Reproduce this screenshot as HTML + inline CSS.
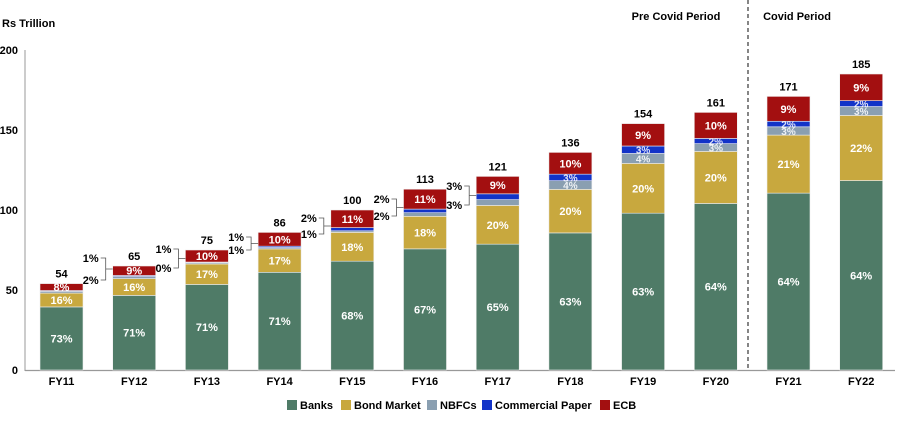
<!DOCTYPE html>
<html><head><meta charset="utf-8"><style>
body{margin:0;background:#fff;}
svg{display:block;font-family:"Liberation Sans",Arial,sans-serif;font-weight:bold;}
</style></head><body>
<svg id="c" width="900" height="423" viewBox="0 0 900 423"></svg>
<script>
const s=document.getElementById('c');
let h='';
const Y=v=>370-v*1.6;
h+=`<text x="2" y="27" font-size="11">Rs Trillion</text>`;
[0,50,100,150,200].forEach(v=>{h+=`<text x="18" y="${Y(v)+4}" font-size="11" text-anchor="end">${v}</text>`;});
h+=`<line x1="25" y1="50" x2="25" y2="371" stroke="#999" stroke-width="1"/>`;
h+=`<line x1="25" y1="370.5" x2="895" y2="370.5" stroke="#999" stroke-width="1.2"/>`;
h+=`<line x1="748" y1="0" x2="748" y2="370" stroke="#444" stroke-width="1.3" stroke-dasharray="4,3"/>`;
h+=`<text x="676" y="20" font-size="11" text-anchor="middle">Pre Covid Period</text>`;
h+=`<text x="797" y="20" font-size="11" text-anchor="middle">Covid Period</text>`;
const cols=['#4f7b67','#c8a83e','#8a9fb1','#1233c8','#a30f10'];
const d=[
['FY11',54,[73,16,2,1,8]],
['FY12',65,[71,16,2,1,9]],
['FY13',75,[71,17,1,0.6,10]],
['FY14',86,[71,17,1,1,10]],
['FY15',100,[68,18,1,2,11]],
['FY16',113,[67,18,2,2,11]],
['FY17',121,[65,20,3,3,9]],
['FY18',136,[63,20,4,3,10]],
['FY19',154,[63,20,4,3,9]],
['FY20',161,[64,20,3,2,10]],
['FY21',171,[64,21,3,2,9]],
['FY22',185,[64,22,3,2,9]]];
d.forEach((r,i)=>{
 const x=40+i*72.7,w=43,cx=x+w/2;
 const sum=r[2].reduce((a,b)=>a+b,0);
 let acc=0;
 r[2].forEach((p,j)=>{
  const v=r[1]*p/sum;
  const y0=Y(acc),y1=Y(acc+v);
  h+=`<rect x="${x}" y="${y1}" width="${w}" height="${y0-y1}" fill="${cols[j]}" stroke="#eee" stroke-width="0.6"/>`;
  const mid=(y0+y1)/2;
  if(j==0||j==1||j==4) h+=`<text x="${cx}" y="${mid+4}" font-size="11" fill="#fff" text-anchor="middle">${p}%</text>`;
  else if(i>=7) h+=`<text x="${cx}" y="${mid+4}" font-size="10" fill="#fff" text-anchor="middle" opacity="0.85">${p}%</text>`;
  acc+=v;
 });
 h+=`<text x="${cx}" y="${Y(r[1])-6}" font-size="11" text-anchor="middle">${r[1]}</text>`;
 h+=`<text x="${cx}" y="385" font-size="11" text-anchor="middle">${r[0]}</text>`;
});
const out=[[1,'1%',258,'2%',280],[2,'1%',249,'0%',268],[3,'1%',237,'1%',250],[4,'2%',218,'1%',234],[5,'2%',199,'2%',216],[6,'3%',186,'3%',205]];
out.forEach(o=>{
 const x=40+o[0]*72.7;
 h+=`<text x="${x-14}" y="${o[2]+4}" font-size="11" text-anchor="end">${o[1]}</text>`;
 h+=`<text x="${x-14}" y="${o[4]+4}" font-size="11" text-anchor="end">${o[3]}</text>`;
 h+=`<path d="M${x-12} ${o[2]} H${x-7} V${o[4]} H${x-12} M${x-7} ${(o[2]+o[4])/2} H${x}" fill="none" stroke="#555" stroke-width="0.8"/>`;
});
const lg=[['Banks',287],['Bond Market',341],['NBFCs',427],['Commercial Paper',482],['ECB',600]];
lg.forEach((l,j)=>{
 h+=`<rect x="${l[1]}" y="400" width="10" height="10" fill="${cols[j]}"/>`;
 h+=`<text x="${l[1]+13}" y="409" font-size="11">${l[0]}</text>`;
});
s.innerHTML=h;
</script>
</body></html>
